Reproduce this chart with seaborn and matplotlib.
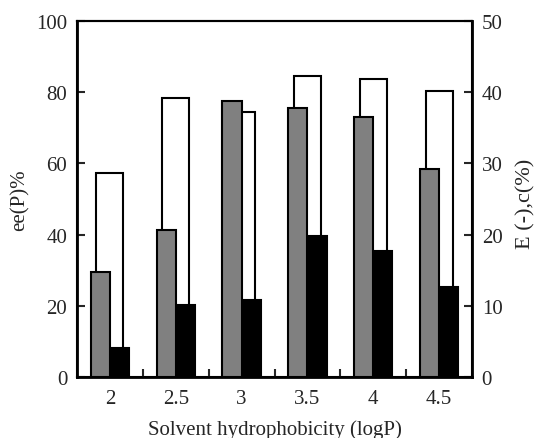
import matplotlib
matplotlib.use("Agg")
import matplotlib.pyplot as plt
import seaborn as sns
import pandas as pd
from matplotlib.ticker import FixedLocator

# logP de cada disolvente
logp = [2.0, 2.5, 3.0, 3.5, 4.0, 4.5]
logp_labels = ["2", "2.5", "3", "3.5", "4", "4.5"]
# ee(P) % (eje izquierdo)
ee_p = [29.6, 41.3, 77.6, 75.6, 72.9, 58.3]
# conversion c % (eje derecho, barra blanca)
conversion = [28.6, 39.2, 37.2, 42.2, 41.9, 40.2]
# E (-) (eje derecho, barra negra)
enantio_e = [4.1, 10.1, 10.75, 19.75, 17.75, 12.65]

sns.set_style("ticks")
plt.rcParams["font.family"] = ["Liberation Serif", "DejaVu Serif"]
plt.rcParams["font.size"] = 15

df_left = pd.DataFrame({"logP": logp + logp,
                        "serie": ["ee"] * 6 + ["E"] * 6,
                        "valor": ee_p + [float("nan")] * 6})
df_right = pd.DataFrame({"logP": logp + logp,
                         "serie": ["ee"] * 6 + ["E"] * 6,
                         "valor": [float("nan")] * 6 + enantio_e})
df_c = pd.DataFrame({"logP": logp, "c": conversion})

fig = plt.figure(figsize=(5.34, 4.39), dpi=100)
ax = fig.add_axes([0.1442, 0.139, 0.7397, 0.811])
ax2 = ax.twinx()

# barras blancas (c) detras
sns.barplot(data=df_c, x="logP", y="c", native_scale=True, width=0.41,
            color="white", edgecolor="black", linewidth=1.5, ax=ax2,
            errorbar=None, saturation=1)
# barras negras (E)
sns.barplot(data=df_right, x="logP", y="valor", hue="serie", native_scale=True,
            width=0.58, dodge=True, gap=0, palette={"ee": "#808080", "E": "black"},
            edgecolor="black", linewidth=1.5, ax=ax2, errorbar=None,
            saturation=1, legend=False)
# barras grises (ee) delante
sns.barplot(data=df_left, x="logP", y="valor", hue="serie", native_scale=True,
            width=0.58, dodge=True, gap=0, palette={"ee": "#808080", "E": "black"},
            edgecolor="black", linewidth=1.5, ax=ax, errorbar=None,
            saturation=1, legend=False)

ax.set_zorder(ax2.get_zorder() + 1)
ax.patch.set_visible(False)

ax.set_xlim(1.75, 4.75)
ax.set_ylim(0, 100)
ax2.set_ylim(0, 50)
ax.set_yticks([0, 20, 40, 60, 80, 100])
ax2.set_yticks([0, 10, 20, 30, 40, 50])
ax.set_xticks(logp)
ax.set_xticklabels(logp_labels)
ax.xaxis.set_minor_locator(FixedLocator([2.25, 2.75, 3.25, 3.75, 4.25]))

ax.tick_params(axis="x", which="major", length=0, pad=9, labelsize=15)
ax.tick_params(axis="x", which="minor", direction="in", length=6, width=1.5)
ax.tick_params(axis="y", direction="in", length=6, width=1.5, pad=7, labelsize=15)
ax2.tick_params(axis="y", direction="in", length=6, width=1.5, pad=7, labelsize=15)

ax.set_xlabel("Solvent hydrophobicity (logP)", fontsize=15, labelpad=8)
ax.set_ylabel("ee(P)%", fontsize=15)
ax.yaxis.set_label_coords(-0.119, 0.5)
ax2.set_ylabel("E (-),c(%)", fontsize=16, rotation=90)
ax2.yaxis.set_label_coords(1.111, 0.489)
ax2.set_xlabel("")

for a in (ax, ax2):
    for s in a.spines.values():
        s.set_linewidth(1.5)
        s.set_color("black")
ax.spines["left"].set_linewidth(2)
ax.spines["bottom"].set_linewidth(2)
ax2.spines["right"].set_linewidth(2)

fig.savefig("out.png", dpi=100)
